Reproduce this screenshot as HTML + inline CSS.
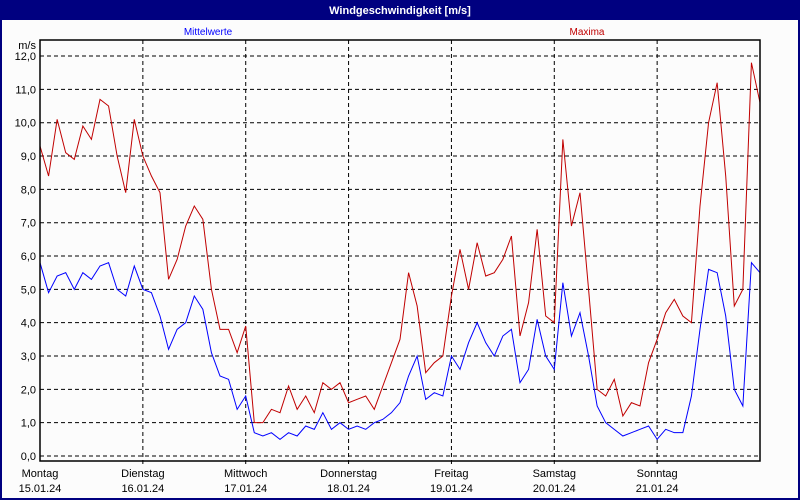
<!DOCTYPE html>
<html><head><meta charset="utf-8"><style>
body{margin:0;background:#fff;}
svg{display:block;font-family:"Liberation Sans",sans-serif;}
</style></head><body>
<svg id="c" width="800" height="500">
<rect x="0" y="0" width="800" height="500" fill="#000080"/>
<rect x="2" y="20" width="796" height="478" fill="#fcfcfc"/>
<text x="400" y="14" fill="#fff" font-size="11" font-weight="bold" text-anchor="middle">Windgeschwindigkeit [m/s]</text>
<text x="208" y="35" fill="#0000ff" font-size="10" text-anchor="middle">Mittelwerte</text>
<text x="587" y="35" fill="#c00000" font-size="10" text-anchor="middle">Maxima</text>
<text x="36" y="49" fill="#000" font-size="11" text-anchor="end">m/s</text>
<g id="grid"></g><g id="series"></g><g id="axes"></g>
</svg>
<script>
const yTicks=[0,1,2,3,4,5,6,7,8,9,10,11,12];
const dayNames=["Montag","Dienstag","Mittwoch","Donnerstag","Freitag","Samstag","Sonntag"];
const dayDates=["15.01.24","16.01.24","17.01.24","18.01.24","19.01.24","20.01.24","21.01.24"];
const maxima=[9.3,8.4,10.1,9.1,8.9,9.9,9.5,10.7,10.5,9.0,7.9,10.1,9.0,
8.4,7.9,5.3,5.9,6.9,7.5,7.1,5.0,3.8,3.8,3.1,3.9,
1.0,1.0,1.4,1.3,2.1,1.4,1.8,1.3,2.2,2.0,2.2,1.6,
1.7,1.8,1.4,2.1,2.8,3.5,5.5,4.5,2.5,2.8,3.0,4.8,
6.2,5.0,6.4,5.4,5.5,5.9,6.6,3.6,4.6,6.8,4.2,4.0,
9.5,6.9,7.9,5.0,2.0,1.8,2.3,1.2,1.6,1.5,2.8,3.5,
4.3,4.7,4.2,4.0,7.5,10.0,11.2,8.4,4.5,5.0,11.8,10.6];
const mittel=[5.8,4.9,5.4,5.5,5.0,5.5,5.3,5.7,5.8,5.0,4.8,5.7,5.0,
4.9,4.2,3.2,3.8,4.0,4.8,4.4,3.1,2.4,2.3,1.4,1.8,
0.7,0.6,0.7,0.5,0.7,0.6,0.9,0.8,1.3,0.8,1.0,0.8,
0.9,0.8,1.0,1.1,1.3,1.6,2.4,3.0,1.7,1.9,1.8,3.0,
2.6,3.4,4.0,3.4,3.0,3.6,3.8,2.2,2.6,4.1,3.0,2.6,
5.2,3.6,4.3,3.0,1.5,1.0,0.8,0.6,0.7,0.8,0.9,0.5,
0.8,0.7,0.7,1.8,3.8,5.6,5.5,4.2,2.0,1.5,5.8,5.5];
const NS="http://www.w3.org/2000/svg";
const X0=40,X1=760,Y0=456,PU=33.33,TOP=40;
const nPts=84;
function xs(i){return X0+(X1-X0)*i/nPts;}
function ys(v){return Y0-v*PU;}
function mk(t,a,p){const e=document.createElementNS(NS,t);for(const k in a)e.setAttribute(k,a[k]);p.appendChild(e);return e;}
const grid=document.getElementById('grid'),axes=document.getElementById('axes'),ser=document.getElementById('series');
yTicks.forEach(v=>{
 const l=mk('line',{x1:X0,x2:X1,y1:ys(v),y2:ys(v),stroke:'#000','stroke-dasharray':'4,3'},grid);
 
 
 const t=mk('text',{x:36,y:ys(v)+4,'font-size':11,'text-anchor':'end',fill:'#000'},axes);
 t.textContent=v.toFixed(1).replace('.',',');
 
 
});
dayNames.forEach((d,i)=>{
 const x=X0+(X1-X0)*i/dayNames.length;
 if(i>0){const l=mk('line',{x1:x,x2:x,y1:TOP,y2:Y0+8,stroke:'#000','stroke-dasharray':'4,3'},grid);
 
 }
 const t=mk('text',{x:x,y:477,'font-size':11,'text-anchor':'middle',fill:'#000'},axes);
 t.textContent=d;
 
 
 const t2=mk('text',{x:x,y:492,'font-size':11,'text-anchor':'middle',fill:'#000'},axes);
 t2.textContent=dayDates[i];
 
 
});
const pr=mk('rect',{x:X0,y:TOP,width:X1-X0,height:461-TOP,fill:'none',stroke:'#000','stroke-width':1.5},axes);


function line(arr,col,name){
 const p=mk('polyline',{points:arr.map((v,i)=>xs(i)+','+ys(v)).join(' '),fill:'none',stroke:col,'stroke-width':1},ser);
 
 
}
line(maxima,'#c00000','maxima-line');
line(mittel,'#0000ff','mittelwerte-line');
</script>
</body></html>
